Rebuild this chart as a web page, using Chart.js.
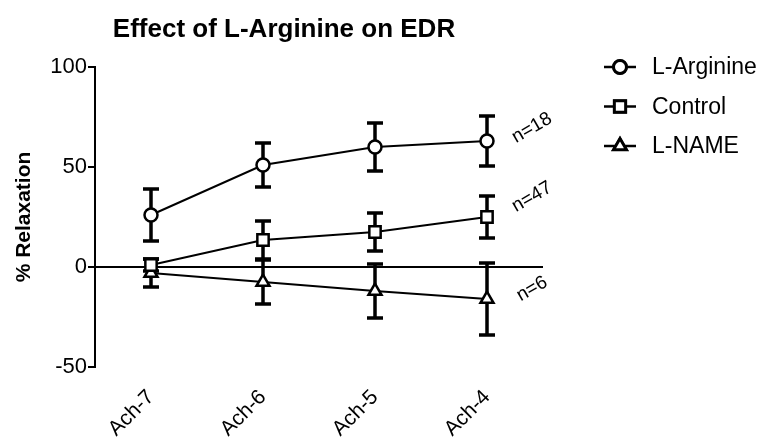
<html>
<head>
<title>Effect of L-Arginine on EDR</title>
<script src="https://cdn.jsdelivr.net/npm/chart.js@4.4.1/dist/chart.umd.min.js"></script>
<style>
  body { margin: 0; background: #fff; }
</style>
</head>
<body>
<canvas id="myChart" width="773" height="447"></canvas>
<script type="text/javascript">
// data
var labels = ['Ach-7', 'Ach-6', 'Ach-5', 'Ach-4']
var argMean = [26, 51, 60, 63]
var argErr = [13, 11, 12, 12.5]
var ctlMean = [1, 13.5, 17.5, 25]
var ctlErr = [3, 9.5, 9.5, 10.5]
var nameMean = [-3, -7.5, -12, -16]
var nameErr = [7, 11, 13.5, 18]
var nLabels = ['n=18', 'n=47', 'n=6']
var yTicks = [-50, 0, 50, 100]

var FONT = "'Liberation Sans', Arial, sans-serif"
var errs = [argErr, ctlErr, nameErr]
var nShiftY = [-13, -20, -10]

// error bars, drawn under the markers
var errorBars = {
    id: 'errorBars',
    beforeDatasetsDraw: function(chart) {
        var ctx = chart.ctx
        var y = chart.scales.y
        ctx.save()
        ctx.strokeStyle = '#000'
        chart.data.datasets.forEach(function(ds, i) {
            var meta = chart.getDatasetMeta(i)
            meta.data.forEach(function(pt, j) {
                var top = y.getPixelForValue(ds.data[j] + errs[i][j])
                var bot = y.getPixelForValue(ds.data[j] - errs[i][j])
                ctx.lineWidth = 3.5
                ctx.beginPath()
                ctx.moveTo(pt.x, top); ctx.lineTo(pt.x, bot)
                ctx.moveTo(pt.x - 8, top); ctx.lineTo(pt.x + 8, top)
                ctx.moveTo(pt.x - 8, bot); ctx.lineTo(pt.x + 8, bot)
                ctx.stroke()
            })
        })
        ctx.restore()
    }
}

// title, n= labels and legend
var extras = {
    id: 'extras',
    afterDraw: function(chart) {
        var ctx = chart.ctx
        ctx.save()
        ctx.fillStyle = '#000'
        ctx.font = 'bold 26px ' + FONT
        ctx.textAlign = 'center'
        ctx.textBaseline = 'alphabetic'
        ctx.fillText('Effect of L-Arginine on EDR', 284, 37)

        // n= labels next to the last point
        ctx.textBaseline = 'middle'
        ctx.font = '19px ' + FONT
        chart.data.datasets.forEach(function(ds, i) {
            var meta = chart.getDatasetMeta(i)
            var last = meta.data[meta.data.length - 1]
            ctx.save()
            ctx.translate(last.x + 45, last.y + nShiftY[i])
            ctx.rotate(-30 * Math.PI / 180)
            ctx.fillText(nLabels[i], 0, 0)
            ctx.restore()
        })

        // legend
        ctx.textAlign = 'left'
        ctx.font = '23px ' + FONT
        chart.data.datasets.forEach(function(ds, i) {
            var ly = 67 + i * 39.5
            ctx.strokeStyle = '#000'
            ctx.lineWidth = 2.5
            ctx.beginPath()
            ctx.moveTo(604, ly); ctx.lineTo(636, ly)
            ctx.stroke()
            Chart.helpers.drawPoint(ctx, {
                pointStyle: ds.pointStyle, radius: ds.pointRadius, rotation: 0, borderWidth: 2
            }, 620, ly)
            ctx.fillStyle = '#fff'
            ctx.fill()
            ctx.lineWidth = 3
            ctx.stroke()
            ctx.fillStyle = '#000'
            ctx.fillText(ds.label, 652, ly + 1)
        })
        ctx.restore()
    }
}

function series(label, data, style, r) {
    return {
        label: label,
        data: data,
        borderColor: '#000',
        borderWidth: 2,
        backgroundColor: '#fff',
        pointStyle: style,
        pointRadius: r,
        pointBorderWidth: 2.5,
        pointBackgroundColor: '#fff',
        pointBorderColor: '#000',
        tension: 0,
        fill: false
    }
}

var config = {
    type: 'line',
    data: {
        labels: labels,
        datasets: [
            series('L-Arginine', argMean, 'circle', 6.5),
            series('Control', ctlMean, 'rect', 8),
            series('L-NAME', nameMean, 'triangle', 7.5)
        ]
    },
    options: {
        responsive: false,
        animation: false,
        layout: { padding: { left: 0, top: 67, right: 230, bottom: 0 } },
        plugins: {
            legend: { display: false },
            tooltip: { enabled: false },
            title: { display: false }
        },
        scales: {
            x: {
                type: 'category',
                offset: true,
                grid: { display: false },
                border: { display: false },
                ticks: {
                    color: '#000',
                    font: { family: FONT, size: 21 },
                    minRotation: 45,
                    maxRotation: 45,
                    padding: 10
                },
                afterFit: function(scale) { scale.height = 80 }
            },
            y: {
                min: -50,
                max: 100,
                afterBuildTicks: function(scale) {
                    scale.ticks = yTicks.map(function(v) { return { value: v } })
                },
                border: { display: true, color: '#000', width: 2 },
                grid: {
                    drawOnChartArea: true,
                    color: function(c) { return c.tick && c.tick.value === 0 ? '#000' : 'rgba(0,0,0,0)' },
                    lineWidth: 2,
                    tickColor: '#000',
                    tickLength: 7,
                    tickWidth: 2
                },
                ticks: {
                    color: '#000',
                    font: { family: FONT, size: 22 },
                    padding: 1
                },
                title: {
                    display: true,
                    text: '% Relaxation',
                    color: '#000',
                    font: { family: FONT, size: 21, weight: 'bold' },
                    padding: { top: 12, bottom: 10 }
                },
                afterFit: function(scale) { scale.width = 95 }
            }
        }
    },
    plugins: [errorBars, extras]
}

var chart = new Chart(document.getElementById('myChart'), config)
</script>
</body>
</html>
